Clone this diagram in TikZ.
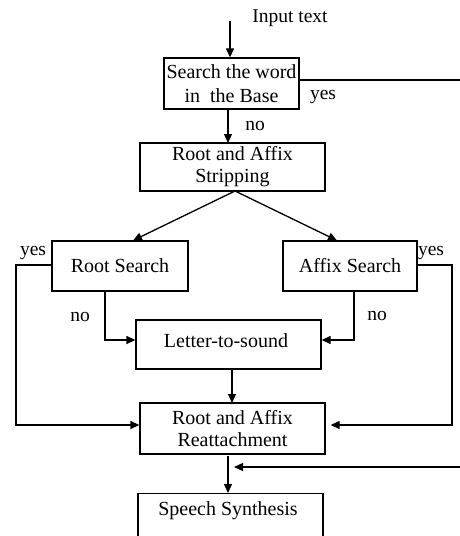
\documentclass[tikz,border=0pt]{standalone}
\usepackage{fontspec}
\setmainfont{Liberation Serif}
\usetikzlibrary{arrows.meta}
\begin{document}
\begin{tikzpicture}[x=1pt,y=-1pt,
  every node/.style={font=\fontsize{20}{22}\selectfont, inner sep=0pt},
  procbox/.style={draw, line width=1.3pt, align=center},
  link/.style={line width=1.3pt},
  flow/.style={link, -{Triangle[length=9pt,width=8pt]}},
  lbl/.style={font=\fontsize{19.5}{22}\selectfont}]
\useasboundingbox (0,0) rectangle (460,536);
\clip (0,0) rectangle (460,536);

% processing steps
\node[procbox, minimum width=135pt, minimum height=51pt, font=\fontsize{20}{24.5}\selectfont] (base) at (231.5,83.5) {Search the word\\in~ the Base};
\node[procbox, minimum width=185pt, minimum height=48pt] (strip) at (232.5,167) {Root and Affix\\Stripping};
\node[procbox, minimum width=136pt, minimum height=50pt] (root) at (120,266) {Root Search};
\node[procbox, minimum width=134pt, minimum height=50pt] (affix) at (350,266) {Affix Search};
\node[procbox, minimum width=185pt, minimum height=49pt] (lts) at (228.5,344.5) {};
\node (ltstxt) at (226,341) {Letter-to-sound};
\node[procbox, minimum width=185pt, minimum height=51pt] (reatt) at (232.5,428.5) {Root and Affix\\Reattachment};
\node[procbox, minimum width=185pt, minimum height=60pt, anchor=north] (synth) at (230.5,493) {};
\node (synthtxt) at (228,511) {Speech Synthesis};

% input and off-picture ends
\node[lbl] (input) at (290,18) {Input text};
\coordinate (instart) at (230,21);
\coordinate (baseout) at (460,80);
\coordinate (backin) at (460,467);

% main flow
\draw[flow] (instart) -- (instart |- base.north);
\draw[flow] (228,109) -- (228,143);
\draw[link] (base.east |- baseout) -- (baseout);
\draw[flow] (235,191) -- (133,240.5);
\draw[flow] (235,191) -- (337,240.5);

% search results
\draw[flow] (root.west |- 0,265) -- (16,265) -- (16,425) -- (reatt.west |- 0,425);
\draw[flow, shorten >=5pt] (affix.east |- 0,265) -- (452,265) -- (452,425) -- (reatt.east |- 0,425);
\draw[flow] (105,291) -- (105,340) -- (lts.west |- 0,340);
\draw[flow] (354,291) -- (354,340) -- (lts.east |- 0,340);
\draw[flow] (232,369) -- (232,403);
\draw[flow] (228,456) -- (228,493);
\draw[flow] (backin) -- (234,467);

% labels
\node[lbl] (yes1) at (323,97) {yes};
\node[lbl] (no1) at (255,126) {no};
\node[lbl] (yes2) at (33,253) {yes};
\node[lbl] (yes3) at (431,253) {yes};
\node[lbl] (no2) at (80,317) {no};
\node[lbl] (no3) at (377,316) {no};
\end{tikzpicture}
\end{document}
